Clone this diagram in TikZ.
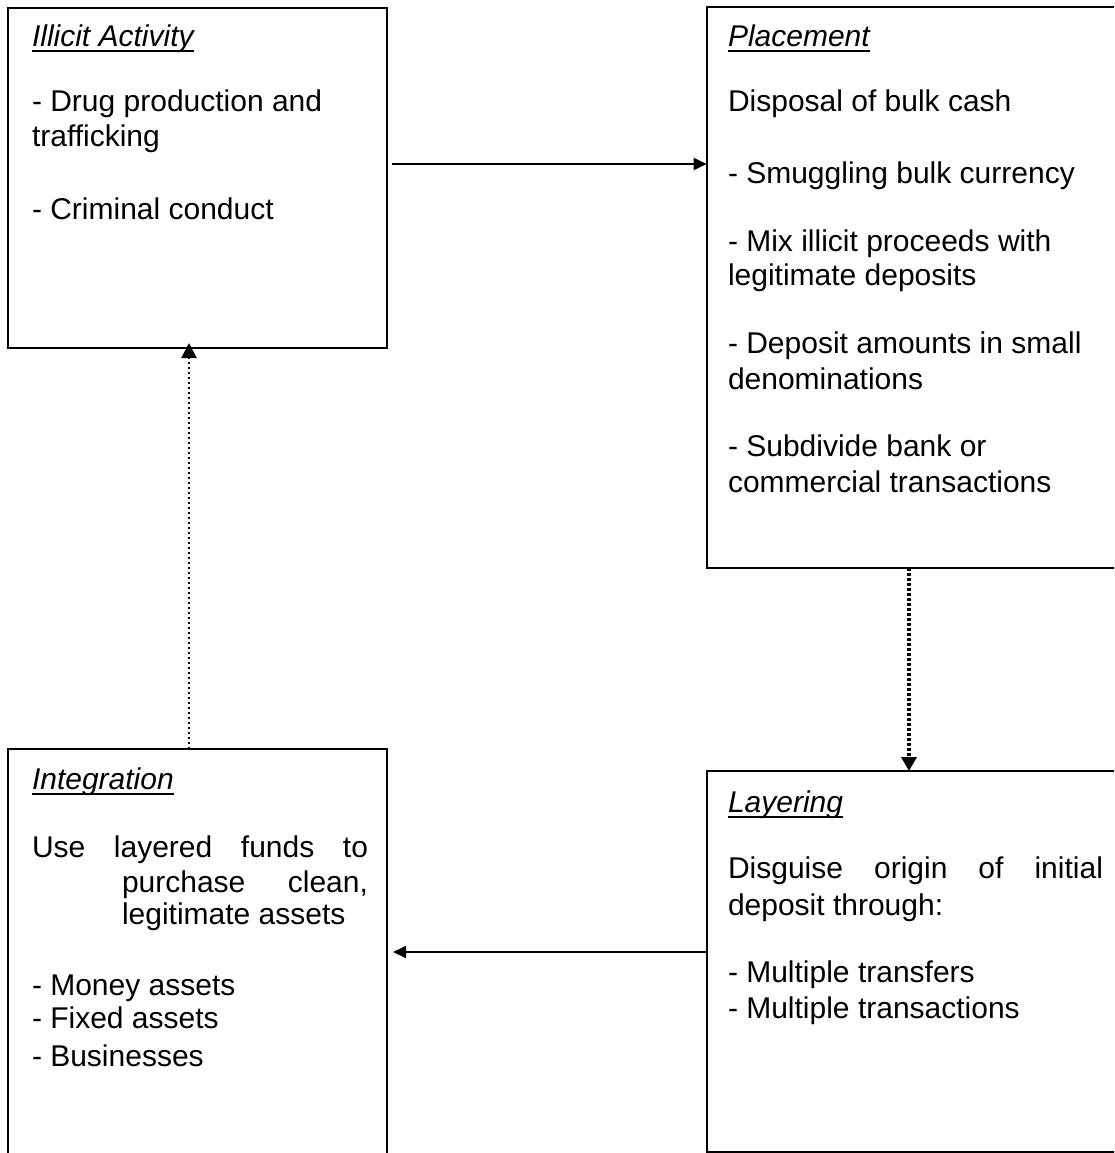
\documentclass[tikz,border=0pt]{standalone}
\usepackage{fontspec}
\setmainfont{Liberation Sans}
\usetikzlibrary{arrows.meta,calc}
\newcommand\titleul[1]{\leavevmode\setbox0\hbox{\itshape #1}\rlap{\rule[-5.5pt]{\wd0}{2pt}}\box0}
\tikzset{
  box/.style={draw, line width=2pt, rectangle, outer sep=0pt, inner sep=0pt},
  boxtext/.style={anchor=base west, inner sep=0pt, outer sep=0pt},
  solidarr/.style={line width=1.6pt, -{Triangle[length=13pt,width=12pt]}},
  heavydots/.style={line width=4pt, dash pattern=on 3pt off 2pt, -{Triangle[length=14pt,width=15pt]}},
  lightdots/.style={line width=2pt, dash pattern=on 2pt off 3pt, -{Triangle[length=15pt,width=15pt]}}
}
\begin{document}
\begin{tikzpicture}[x=1pt,y=-1pt,font=\fontsize{30}{35}\selectfont]
\useasboundingbox (0,0) rectangle (1114,1153);
\clip (0,0) rectangle (1114,1153);

% boxes
\node[box, minimum width=379pt, minimum height=340pt, anchor=north west] (illicit) at (8,8) {};
\node[box, minimum width=420pt, minimum height=560.5pt, anchor=north west] (placement) at (706.7,7.5) {};
\node[box, minimum width=379pt, minimum height=420pt, anchor=north west] (integration) at (8,749) {};
\node[box, minimum width=420pt, minimum height=381pt, anchor=north west] (layering) at (706.7,771) {};

% texts
\node[boxtext] (illicittext) at (32,47) {\begin{minipage}[t]{350pt}\raggedright
\titleul{Illicit Activity}\\[30pt]
- Drug production and\\
trafficking\\[38pt]
- Criminal conduct
\end{minipage}};

\node[boxtext] (placementtext) at (728,47) {\begin{minipage}[t]{380pt}\raggedright
\titleul{Placement}\\[30pt]
Disposal of bulk cash\\[37pt]
- Smuggling bulk currency\\[33pt]
- Mix illicit proceeds with\\[-1pt]
legitimate deposits\\[33pt]
- Deposit amounts in small\\[1pt]
denominations\\[32pt]
- Subdivide bank or\\[1pt]
commercial transactions
\end{minipage}};

\node[boxtext] (integrationtext) at (32,789) {\begin{minipage}[t]{350pt}\raggedright
\titleul{Integration}\\[33pt]
\makebox[336pt][s]{Use layered funds to}\\
\hspace*{90pt}\makebox[246pt][s]{purchase clean,}\\[-3pt]
\hspace*{90pt}legitimate assets\\[36pt]
- Money assets\\[-2pt]
- Fixed assets\\[3pt]
- Businesses
\end{minipage}};

\node[boxtext] (layeringtext) at (728,812) {\begin{minipage}[t]{380pt}\raggedright
\titleul{Layering}\\[31pt]
\makebox[375pt][s]{Disguise origin of initial}\\[2pt]
deposit through:\\[32pt]
- Multiple transfers\\[1pt]
- Multiple transactions
\end{minipage}};

% connectors
\coordinate (p1) at ([xshift=5pt,yshift=14pt]illicit.east);
\coordinate (q1) at (p1 -| placement.west);
\draw[solidarr] (p1) -- (q1);

\coordinate (p2) at ([xshift=-7.7pt]placement.south);
\coordinate (q2) at (p2 |- layering.north);
\draw[heavydots] (p2) -- (q2);

\coordinate (p3) at ([yshift=9.5pt]layering.west);
\coordinate (q3) at (p3 -| integration.east);
\draw[solidarr] (p3) -- ([xshift=6pt]q3);

\coordinate (p4) at ([xshift=-8.5pt]integration.north);
\coordinate (q4) at (p4 |- illicit.south);
\draw[lightdots] (p4) -- ([yshift=5pt]q4);
\end{tikzpicture}
\end{document}
